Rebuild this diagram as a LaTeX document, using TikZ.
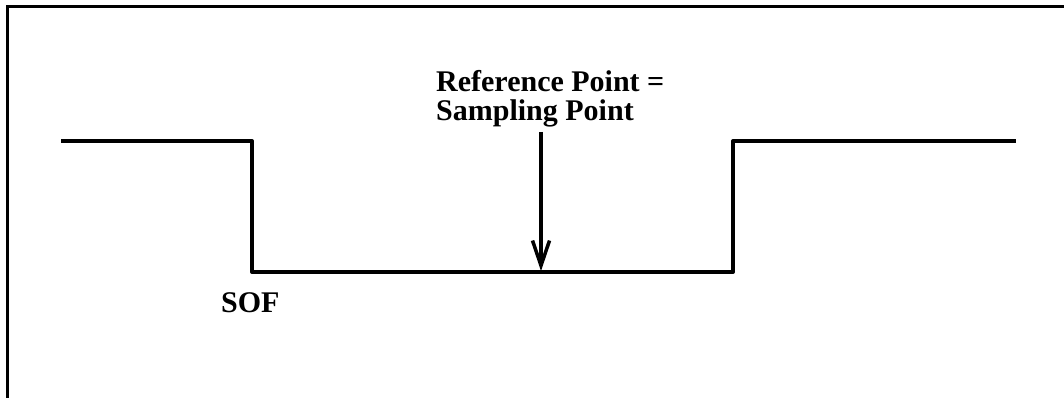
\documentclass[tikz,border=0pt]{standalone}
\usepackage{fontspec}
\setmainfont{Liberation Serif}
\usetikzlibrary{arrows.meta}
\begin{document}
\begin{tikzpicture}[x=1pt,y=-1pt,
  frame/.style={line width=3pt},
  signal/.style={line width=4pt, line join=round},
  pointer/.style={line width=3.5pt, -{Straight Barb[length=25pt,width=17pt,line width=3.5pt]}},
  lbl/.style={inner sep=0pt, anchor=base west, font=\fontsize{30}{30}\selectfont\bfseries}]
\useasboundingbox (0,0) rectangle (1064,398);
% partial frame
\coordinate (fTR) at (1064,7);
\coordinate (fTL) at (7,7);
\coordinate (fBL) at (7,398);
\draw[frame] (fTR) -- (fTL) -- (fBL);
% signal
\coordinate (s0) at (61,141);
\coordinate (s1) at (252,141);
\coordinate (s2) at (252,272);
\coordinate (s3) at (733,272);
\coordinate (s4) at (733,141);
\coordinate (s5) at (1016,141);
\draw[signal] (s0) -- (s1) -- (s2) -- (s3) -- (s4) -- (s5);
% labels
\node[lbl] (ref) at (436,92) {Reference Point =};
\node[lbl] (samp) at (436,121) {Sampling Point};
\node[lbl] (sof) at (221,312) {SOF};
% arrow
\coordinate (aTop) at (541,132);
\coordinate (aBot) at (541,271);
\draw[pointer] (aTop) -- (aBot);
\end{tikzpicture}
\end{document}
